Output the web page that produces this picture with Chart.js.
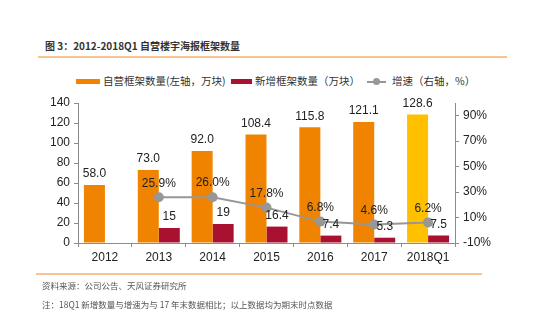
<!DOCTYPE html>
<html>
<head>
<meta charset="utf-8">
<script src="https://cdn.jsdelivr.net/npm/chart.js@4"></script>
<style>
  html, body { margin: 0; padding: 0; background: #fff; }
  body { width: 550px; height: 329px; position: relative; overflow: hidden;
         font-family: "Noto Sans CJK SC", "Liberation Sans", sans-serif; color: #333; }
  #chartBox { position: absolute; left: 0; top: 0; width: 550px; height: 329px; }
  .title { position: absolute; left: 45px; top: 38px; font-size: 10px; font-weight: bold; color: #333; white-space: nowrap; }
  .rule { position: absolute; height: 1.5px; background: #f7c393; }
  .legend { position: absolute; top: 73px; left: 0; font-size: 10.5px; color: #333; white-space: nowrap; }
  .legend .sw { position: absolute; top: 6px; height: 5px; }
  .legend .txt { position: absolute; top: 0; }
  .lineSw { position: absolute; top: 7.5px; width: 19px; height: 2px; background: #979797; }
  .lineSw::after { content: ""; position: absolute; left: 6px; top: -2.5px; width: 7px; height: 7px; border-radius: 50%; background: #979797; }
  .note { position: absolute; left: 42px; font-size: 8.5px; color: #555; white-space: nowrap; }
</style>
</head>
<body>
<div class="title">图 3：2012-2018Q1 自营楼宇海报框架数量</div>
<div class="rule" style="left:38px; top:56px; width:469px;"></div>

<div class="legend">
  <span class="sw" style="left:76px; width:24px; background:#f08400"></span>
  <span class="txt" style="left:103px">自营框架数量(左轴，万块)</span>
  <span class="sw" style="left:231px; width:21px; background:#a8112f"></span>
  <span class="txt" style="left:255px">新增框架数量（万块）</span>
  <span class="lineSw" style="left:367px"></span>
  <span class="txt" style="left:392px">增速（右轴，%）</span>
</div>

<div id="chartBox"><canvas id="grafico"></canvas></div>

<div class="rule" style="left:36px; top:273px; width:446px;"></div>
<div class="note" style="top:279px;">资料来源：公司公告、天风证券研究所</div>
<div class="note" style="top:298px;">注：18Q1 新增数量与增速为与 17 年末数据相比；以上数据均为期末时点数据</div>

<script>
// Dados do gráfico //

const anos = ["2012", "2013", "2014", "2015", "2016", "2017", "2018Q1"];
const totalFrames = [58.0, 73.0, 92.0, 108.4, 115.8, 121.1, 128.6];
const newFrames = [null, 15, 19, 16.4, 7.4, 5.3, 7.5];
const growthRate = [null, 25.9, 26.0, 17.8, 6.8, 4.6, 6.2];
const leftTicks = [0, 20, 40, 60, 80, 100, 120, 140];
const rightTicks = [-10, 10, 30, 50, 70, 90];

const laranja = "#f08400";
const amarelo = "#ffc000";
const vinho = "#a8112f";
const cinza = "#979797";
const corEixo = "#8c8c8c";

// Rótulos de valor desenhados acima das barras e pontos //

const rotulos = {
    id: "rotulos",
    afterDatasetsDraw(chart) {
        const ctx = chart.ctx;
        ctx.save();
        ctx.font = "12px 'Liberation Sans', Arial, sans-serif";
        ctx.fillStyle = "#222";
        ctx.textAlign = "center";
        ctx.textBaseline = "middle";
        chart.data.datasets.forEach((ds, i) => {
            const meta = chart.getDatasetMeta(i);
            meta.data.forEach((el, j) => {
                const v = ds.data[j];
                if (v === null || v === undefined) return;
                let txt;
                let dy;
                if (ds.type === "line") {
                    txt = v.toFixed(1) + "%";
                    dy = 14;
                } else if (i === 1) {
                    txt = v.toFixed(1);
                    dy = 11;
                } else {
                    txt = String(v);
                    dy = 11;
                }
                ctx.fillText(txt, el.x, el.y - dy);
            });
        });
        ctx.restore();
    }
};

function eixoY(position, ticks, min, max, fmt) {
    return {
        type: "linear",
        position,
        min,
        max,
        afterBuildTicks: s => { s.ticks = ticks.map(v => ({ value: v })); },
        afterFit: s => { s.width = position === "left" ? 78 : 95; },
        border: { display: true, color: corEixo, width: 1 },
        grid: { drawOnChartArea: false, drawTicks: true, tickLength: 4, color: corEixo },
        ticks: {
            padding: 4,
            color: "#222",
            font: { family: "'Liberation Sans', Arial, sans-serif", size: 12 },
            callback: fmt
        }
    };
}

const ctx = document.getElementById("grafico");

new Chart(ctx, {
    data: {
        labels: anos,
        datasets: [
            {
                type: "line",
                label: "增速（右轴，%）",
                data: growthRate,
                yAxisID: "y1",
                borderColor: cinza,
                backgroundColor: cinza,
                borderWidth: 2,
                pointRadius: 5,
                pointHoverRadius: 5,
                pointBackgroundColor: cinza,
                pointBorderWidth: 0,
                tension: 0,
                order: 0
            },
            {
                type: "bar",
                label: "自营框架数量(左轴，万块)",
                data: totalFrames,
                yAxisID: "y",
                backgroundColor: anos.map(a => a === "2018Q1" ? amarelo : laranja),
                categoryPercentage: 0.78,
                barPercentage: 1.0,
                order: 1
            },
            {
                type: "bar",
                label: "新增框架数量（万块）",
                data: newFrames,
                yAxisID: "y",
                backgroundColor: vinho,
                categoryPercentage: 0.78,
                barPercentage: 1.0,
                order: 2
            }
        ]
    },
    options: {
        responsive: true,
        maintainAspectRatio: false,
        animation: false,
        layout: { padding: { top: 103, left: 0, right: 0, bottom: 0 } },
        plugins: {
            legend: { display: false },
            tooltip: { enabled: false }
        },
        scales: {
            x: {
                type: "category",
                offset: true,
                afterFit: s => { s.height = 86; },
                border: { display: true, color: corEixo, width: 1 },
                grid: { offset: true, drawOnChartArea: false, drawTicks: true, tickLength: 4, color: corEixo },
                ticks: {
                    padding: 3,
                    color: "#222",
                    font: { family: "'Liberation Sans', Arial, sans-serif", size: 12 }
                }
            },
            y: eixoY("left", leftTicks, 0, 140, v => v),
            y1: eixoY("right", rightTicks, -10, 100, v => v + "%")
        }
    },
    plugins: [rotulos]
});
</script>
</body>
</html>
